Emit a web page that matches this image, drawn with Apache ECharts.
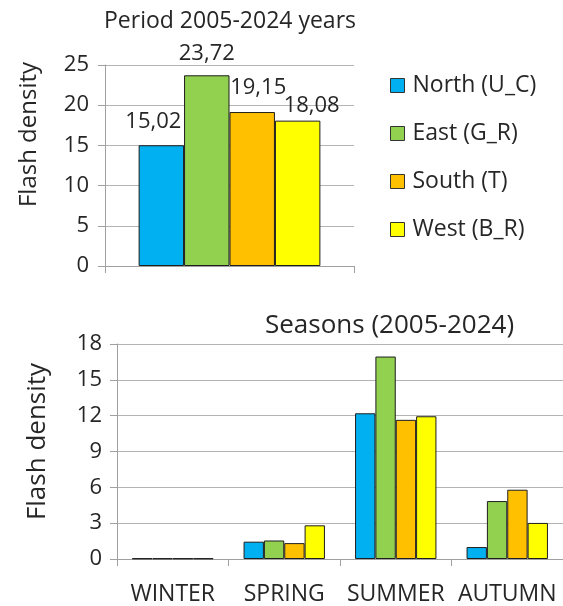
<!DOCTYPE html>
<html><head><meta charset="utf-8">
<script src="https://cdn.jsdelivr.net/npm/echarts@6/dist/echarts.min.js"></script>
<style>html,body{margin:0;padding:0;background:#fff}#c{width:563px;height:606px}</style>
</head><body><div id="c"></div>
<script>
const seriesNames = ['North (U_C)', 'East (G_R)', 'South (T)', 'West (B_R)'];
const periodValues = [15.02, 23.72, 19.15, 18.08];
const seasons = ['WINTER', 'SPRING', 'SUMMER', 'AUTUMN'];
const northSeason = [0.05, 1.45, 12.2, 1.0];
const eastSeason = [0.05, 1.55, 16.95, 4.85];
const southSeason = [0.05, 1.33, 11.65, 5.8];
const westSeason = [0.05, 2.82, 11.95, 3.02];
const topTicks = {min: 0, max: 25, interval: 5};
const bottomTicks = {min: 0, max: 18, interval: 3};
const colors = ['#00b0f0', '#92d050', '#ffc000', '#ffff00'];

const FONT = 'Open Sans';
const TXT = '#262626';
const seasonData = [northSeason, eastSeason, southSeason, westSeason];
const labelOffsets = [[-8, 0], [0, 0], [6, 0], [14, 0]];
const labelDistances = [13, 11, 13, 4];

const chart = echarts.init(document.getElementById('c'), null, {renderer: 'canvas'});
const axisLineStyle = {color: '#a0a0a0', width: 1};
const gridLine = {show: true, lineStyle: {color: '#b4b4b4', width: 1}};

const series = [];
seriesNames.forEach((n, i) => {
  series.push({
    type: 'bar', name: n, xAxisIndex: 0, yAxisIndex: 0,
    data: [periodValues[i]],
    barGap: '0%', barCategoryGap: '27%',
    itemStyle: {color: colors[i], borderColor: '#1e1e1e', borderWidth: 1},
    label: {
      show: true, position: 'top', distance: labelDistances[i], offset: labelOffsets[i],
      fontFamily: FONT, fontSize: 22, color: TXT,
      formatter: p => p.value.toFixed(2).replace('.', ',')
    },
    emphasis: {disabled: true}
  });
});
seriesNames.forEach((n, i) => {
  series.push({
    type: 'bar', name: n, xAxisIndex: 1, yAxisIndex: 1,
    data: seasonData[i],
    barGap: '0%', barCategoryGap: '27%',
    itemStyle: {color: colors[i], borderColor: '#1e1e1e', borderWidth: 1},
    emphasis: {disabled: true}
  });
});

chart.setOption({
  animation: false,
  backgroundColor: '#fff',
  textStyle: {fontFamily: FONT, color: TXT},
  title: [
    {text: 'Period 2005-2024 years', left: 104, top: 10, padding: 0,
     textStyle: {fontFamily: FONT, fontSize: 23, fontWeight: 'normal', color: TXT}},
    {text: 'Seasons (2005-2024)', left: 265, top: 313, padding: 0,
     textStyle: {fontFamily: FONT, fontSize: 26, fontWeight: 'normal', color: TXT}}
  ],
  legend: {
    orient: 'vertical', left: 390, top: 74, padding: 0,
    itemWidth: 14, itemHeight: 14, itemGap: 25,
    icon: 'rect',
    data: seriesNames,
    itemStyle: {borderColor: '#333', borderWidth: 1},
    textStyle: {fontFamily: FONT, fontSize: 23, color: TXT, padding: [0, 0, 0, 3]}
  },
  grid: [
    {left: 105, right: 209, top: 65, bottom: 340},
    {left: 117, right: -7, top: 344, bottom: 45}
  ],
  xAxis: [
    {type: 'category', gridIndex: 0, data: [''],
     axisLine: {lineStyle: axisLineStyle}, axisTick: {show: true, length: 7, lineStyle: axisLineStyle},
     axisLabel: {show: false}, splitLine: {show: false}},
    {type: 'category', gridIndex: 1, data: seasons,
     axisLine: {lineStyle: axisLineStyle}, axisTick: {show: true, length: 7, lineStyle: axisLineStyle},
     axisLabel: {interval: 0, hideOverlap: false, fontFamily: FONT, fontSize: 23, color: TXT, margin: 24},
     splitLine: {show: false}}
  ],
  yAxis: [
    {type: 'value', gridIndex: 0, min: topTicks.min, max: topTicks.max, interval: topTicks.interval,
     name: 'Flash density', nameLocation: 'middle', nameGap: 64,
     nameTextStyle: {fontFamily: FONT, fontSize: 24, color: TXT, padding: [0, 0, 0, 62]},
     axisLine: {show: true, lineStyle: axisLineStyle},
     axisTick: {show: true, length: 7, lineStyle: axisLineStyle},
     axisLabel: {fontFamily: FONT, fontSize: 22, color: TXT, margin: 16},
     splitLine: gridLine},
    {type: 'value', gridIndex: 1, min: bottomTicks.min, max: bottomTicks.max, interval: bottomTicks.interval,
     name: 'Flash density', nameLocation: 'middle', nameGap: 66,
     nameTextStyle: {fontFamily: FONT, fontSize: 26, color: TXT, padding: [0, 0, 0, 20]},
     axisLine: {show: true, lineStyle: axisLineStyle},
     axisTick: {show: true, length: 7, lineStyle: axisLineStyle},
     axisLabel: {fontFamily: FONT, fontSize: 22, color: TXT, margin: 15},
     splitLine: gridLine}
  ],
  series: series
});
</script>
</body></html>
